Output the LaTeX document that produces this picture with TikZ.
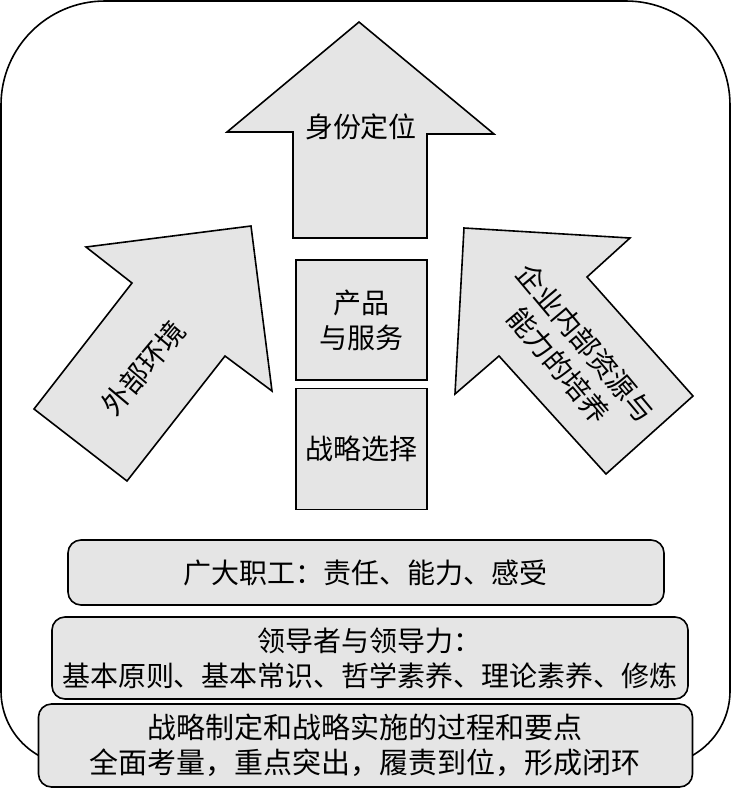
\documentclass[tikz,border=0pt]{standalone}
\usepackage{fontspec}
\setmainfont{Noto Sans CJK SC}
\definecolor{shapegray}{gray}{0.9}

\begin{document}
\begin{tikzpicture}[x=0.5pt, y=-0.5pt,
	every node/.style={font=\fontsize{14pt}{17.5pt}\selectfont},
	greyfill/.style={draw=black, fill=shapegray, line width=0.8pt},
	block/.style={greyfill, rectangle, minimum width=65.5pt, inner sep=0pt, align=center},
	band/.style={greyfill, rectangle, rounded corners=6.5pt, inner sep=0pt, align=center}]

\path[use as bounding box, fill=white] (0,0) rectangle (731,789);

% Outer frame
\draw[line width=0.8pt] (1,450) [rounded corners=52pt] -- (1,1) -- (730,1) -- (730,450)
	[rounded corners=37pt] -- (730,765) -- (1,765) -- cycle;

% Up arrow
\filldraw[greyfill] (359,22) -- (494,134) -- (427,134) -- (427,238) -- (293,238)
	-- (293,132) -- (227,132) -- cycle;
\node (identity) at (361,127) {身份定位};

% Left arrow
\filldraw[greyfill] (251,226) -- (272,391) -- (225,356) -- (127,481) -- (34,409)
	-- (132,283) -- (86,247) -- cycle;
\node[rotate=50] (outside) at (143,368) {外部环境};

% Right arrow
\filldraw[greyfill] (464,228) -- (630,238) -- (587,277) -- (693,396) -- (606,474)
	-- (499,356) -- (455,394) -- cycle;
\node[rotate=-50, align=center] (inside) at (572,354) {企业内部资源与\\能力的培养};

% Middle blocks
\node[block, minimum height=60pt] (product) at (361.5,320) {产品\\与服务};
\node[block, minimum height=60.5pt] (choice) at (361.5,449) {战略选择};

% Bottom bands
\node[band, minimum width=298pt, minimum height=32.5pt] (staff) at (366,572.5)
	{广大职工：责任、能力、感受};
\node[band, minimum width=318pt, minimum height=41pt] (leader) at (370,658)
	{领导者与领导力：\\基本原则、基本常识、哲学素养、理论素养、修炼};
\node[band, minimum width=327pt, minimum height=41.5pt,
	font=\fontsize{14.5pt}{17.5pt}\selectfont] (process) at (365.5,745.5)
	{战略制定和战略实施的过程和要点\\全面考量，重点突出，履责到位，形成闭环};

\end{tikzpicture}
\end{document}
